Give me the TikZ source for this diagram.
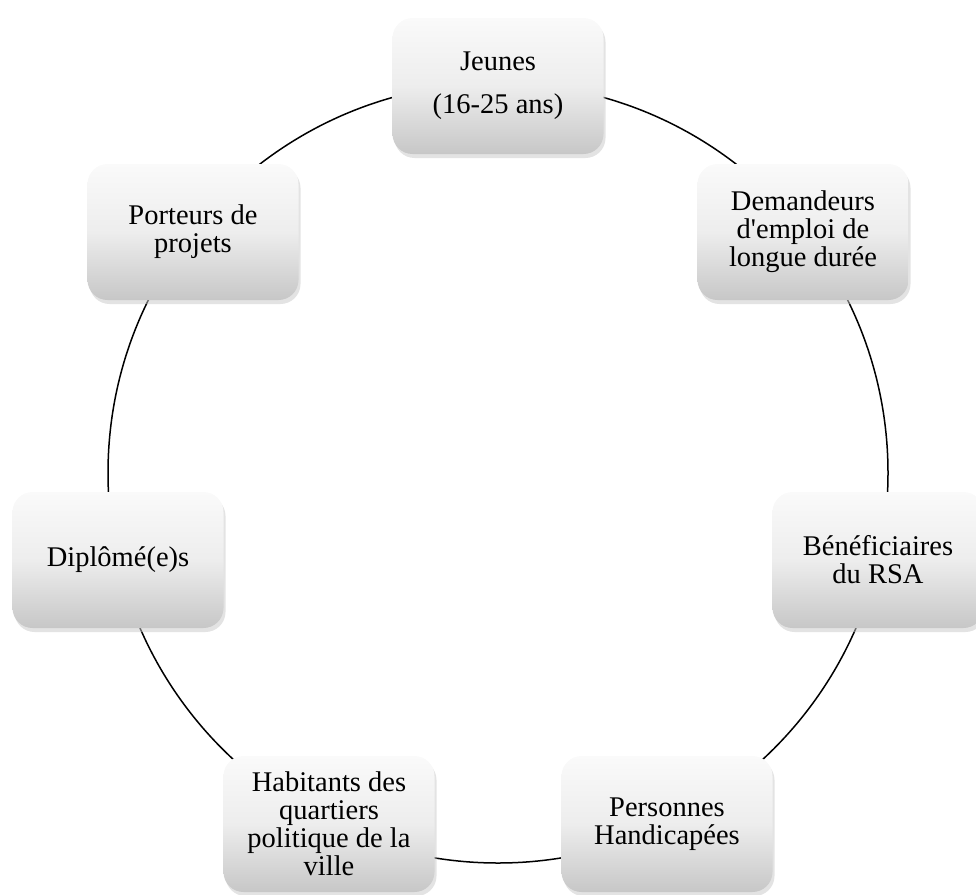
\documentclass[tikz,border=0pt]{standalone}
\usepackage{fontspec}
\setmainfont{Liberation Serif}
\usetikzlibrary{shadows}
\begin{document}
\begin{tikzpicture}[x=1pt,y=-1pt,
  catbox/.style={rectangle, rounded corners=20pt, minimum width=211pt, minimum height=136pt,
    inner sep=4pt, align=center, text=black,
    top color=black!2, bottom color=black!22, middle color=black!7,
    drop shadow={shadow xshift=2pt, shadow yshift=-4pt, fill=black!22},
    font=\fontsize{28.5}{28}\selectfont},
  ring/.style={line width=1.5pt, black}]
\useasboundingbox (0,0) rectangle (976,894);
\coordinate (c) at (498,473);
\draw[ring] (c) circle[radius=390pt];
\node[catbox] (jeunes) at (498,86) {Jeunes\\[15pt](16-25 ans)};
\node[catbox] (demandeurs) at (803,232) {Demandeurs\\d\textquotesingle emploi de\\longue durée};
\node[catbox] (rsa) at (878,560) {Bénéficiaires\\du RSA};
\node[catbox] (handicap) at (667,824) {Personnes\\Handicapées};
\node[catbox] (habitants) at (329,824) {Habitants des\\quartiers\\politique de la\\ville};
\node[catbox] (diplomes) at (118,560) {Diplômé(e)s};
\node[catbox] (porteurs) at (193,232) {Porteurs de\\projets};
\end{tikzpicture}
\end{document}
